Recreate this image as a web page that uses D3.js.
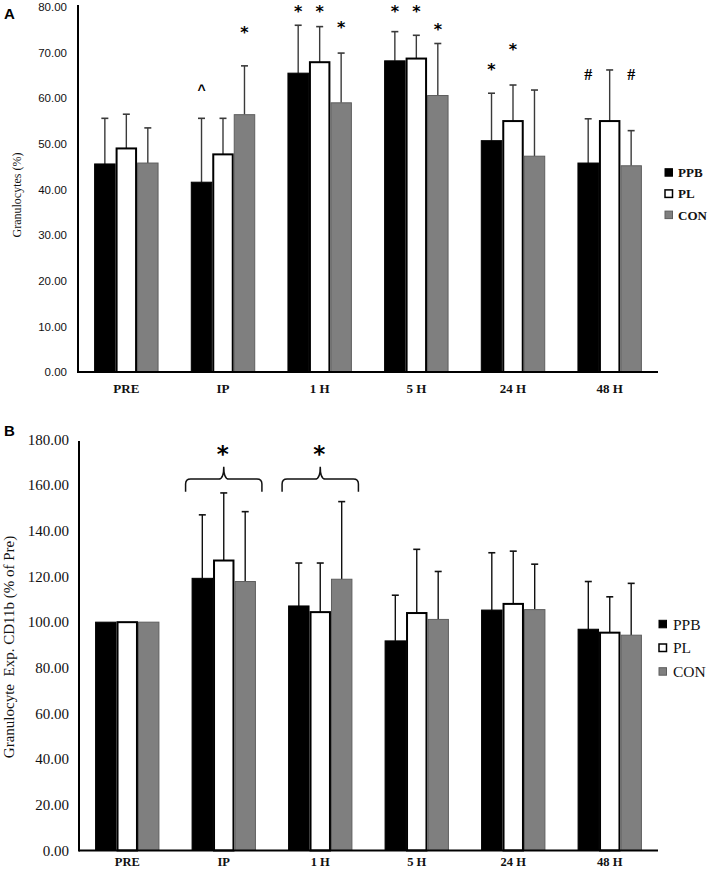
<!DOCTYPE html>
<html><head><meta charset="utf-8">
<script src="https://cdn.jsdelivr.net/npm/d3@7"></script>
<style>body{margin:0;background:#fff}svg{display:block}</style>
</head><body>
<svg id="c" width="709" height="873"></svg>
<script>
const categories = ["PRE","IP","1 H","5 H","24 H","48 H"];
const series = ["PPB","PL","CON"];
const yTicksA = [0,10,20,30,40,50,60,70,80];
const yTicksB = [0,20,40,60,80,100,120,140,160,180];

// Panel A: Granulocytes (%) means and upper error (mean+SD)
const A_PPB = [45.6, 41.6, 65.5, 68.2, 50.7, 45.8];
const A_PL  = [49.0, 47.7, 67.9, 68.7, 55.0, 55.0];
const A_CON = [45.8, 56.4, 59.0, 60.6, 47.3, 45.2];
const A_PPB_err = [55.6, 55.6, 76.0, 74.6, 61.1, 55.5];
const A_PL_err  = [56.5, 55.6, 75.7, 73.8, 62.9, 66.2];
const A_CON_err = [53.5, 67.1, 69.9, 72.0, 61.8, 52.9];
// annotations: [category, series, symbol, value-level]
const A_marks = [
  ["IP","PPB","^",62.5],["IP","CON","*",75.0],
  ["1 H","PPB","*",79.6],["1 H","PL","*",79.6],["1 H","CON","*",76.1],
  ["5 H","PPB","*",79.6],["5 H","PL","*",79.6],["5 H","CON","*",75.8],
  ["24 H","PPB","*",66.9],["24 H","PL","*",71.3],
  ["48 H","PPB","#",65.3],["48 H","CON","#",65.3]
];

// Panel B: Granulocyte Exp. CD11b (% of Pre)
const B_PPB = [100, 119.2, 107.1, 91.8, 105.3, 96.9];
const B_PL  = [100, 127.0, 104.4, 104.0, 108.0, 95.4];
const B_CON = [100, 117.8, 118.8, 101.2, 105.5, 94.3];
const B_PPB_err = [100, 147.0, 125.9, 111.8, 130.4, 117.8];
const B_PL_err  = [100, 156.6, 125.9, 131.9, 131.1, 111.1];
const B_CON_err = [100, 148.4, 152.8, 122.2, 125.4, 117.0];
const B_braces = ["IP","1 H"];

const fills = {PPB:"#000000", PL:"#ffffff", CON:"#7f7f7f"};
const strokes = {PPB:"#000000", PL:"#000000", CON:"#5e5e5e"};

const svg = d3.select("#c");
const serif = "'Liberation Serif','Times New Roman',serif";
const sans = "'Liberation Sans',Arial,sans-serif";

function panel(opt){
  const g = svg.append("g");
  const x = d3.scaleBand().domain(categories).range([opt.x0, opt.x1]).paddingInner(1/3).paddingOuter(1/6);
  const xs = d3.scaleBand().domain(series).range([0, x.bandwidth()]);
  const y = d3.scaleLinear().domain([0, opt.ymax]).range([opt.yb, opt.yt]);
  const data = {PPB:opt.vals[0], PL:opt.vals[1], CON:opt.vals[2]};
  const errs = {PPB:opt.errs[0], PL:opt.errs[1], CON:opt.errs[2]};

  // error bars (drawn first, behind bars)
  series.forEach(s=>{
    categories.forEach((c,i)=>{
      const cx = x(c)+xs(s)+xs.bandwidth()/2;
      if (errs[s][i] > data[s][i]) {
        g.append("line").attr("x1",cx).attr("x2",cx).attr("y1",y(data[s][i])).attr("y2",y(errs[s][i]))
          .attr("stroke",opt.errColor).attr("stroke-width",1.4);
        g.append("line").attr("x1",cx-3.5).attr("x2",cx+3.5).attr("y1",y(errs[s][i])).attr("y2",y(errs[s][i]))
          .attr("stroke",opt.errColor).attr("stroke-width",1.6);
      }
    });
  });
  // bars
  series.forEach(s=>{
    const sw = s==="PL" ? 2 : 1;
    g.selectAll(null).data(categories).enter().append("rect")
      .attr("x",c=>x(c)+xs(s)+sw/2)
      .attr("width",xs.bandwidth()-sw)
      .attr("y",(c,i)=>y(data[s][i]))
      .attr("height",(c,i)=>y(0)-y(data[s][i]))
      .attr("fill",fills[s]).attr("stroke",strokes[s]).attr("stroke-width",sw);
  });
  // axes
  const ya = g.append("g").attr("transform",`translate(${opt.x0},0)`)
    .call(d3.axisLeft(y).tickValues(opt.ticks).tickFormat(d3.format(".2f")).tickSize(0).tickPadding(opt.tickPad));
  ya.select(".domain").remove();
  ya.selectAll("text").attr("font-family",opt.tickFont).attr("font-size",opt.tickSize).attr("font-weight",opt.tickWeight).attr("fill","#111");
  g.append("line").attr("x1",opt.x0).attr("x2",opt.x0).attr("y1",opt.axisTop).attr("y2",opt.yb+1)
    .attr("stroke","#000").attr("stroke-width",2);
  g.append("line").attr("x1",opt.x0).attr("x2",opt.x1).attr("y1",opt.yb).attr("y2",opt.yb)
    .attr("stroke","#000").attr("stroke-width",2);
  const xa = g.append("g").attr("transform",`translate(0,${opt.yb})`)
    .call(d3.axisBottom(x).tickSize(0).tickPadding(opt.xPad));
  xa.select(".domain").remove();
  xa.selectAll("text").attr("font-family",serif).attr("font-size",opt.xSize).attr("font-weight","bold").attr("fill","#111");

  // y label
  g.append("text").attr("transform",`translate(${opt.ylabX},${opt.ylabY}) rotate(-90)`)
    .attr("text-anchor","middle").attr("font-family",serif).attr("font-size",opt.ylabSize).attr("fill","#111")
    .attr("xml:space","preserve").text(opt.ylab);
  // panel letter
  g.append("text").attr("x",4).attr("y",opt.letterY).attr("font-family",sans).attr("font-weight","bold")
    .attr("font-size",15).attr("fill","#000").text(opt.letter);
  // legend
  series.forEach((s,i)=>{
    const ly = opt.legY + i*opt.legGap;
    g.append("rect").attr("x",opt.legX).attr("y",ly-4).attr("width",7.5).attr("height",7.5)
      .attr("fill",fills[s]).attr("stroke",strokes[s]).attr("stroke-width",s==="PL"?1.5:1);
    g.append("text").attr("x",opt.legX+opt.legTx).attr("y",ly+opt.legSize*0.34)
      .attr("font-family",serif).attr("font-size",opt.legSize).attr("font-weight",opt.legWeight)
      .attr("fill","#111").text(s);
  });
  return {g,x,xs,y};
}

const pA = panel({x0:78,x1:658,yb:372,yt:7,ymax:80,axisTop:5,ticks:yTicksA,
  vals:[A_PPB,A_PL,A_CON],errs:[A_PPB_err,A_PL_err,A_CON_err],errColor:"#3a3a3a",
  tickFont:sans,tickSize:11.5,tickWeight:"normal",tickPad:11,xPad:12,xSize:13,
  ylab:"Granulocytes (%)",ylabX:21,ylabY:195,ylabSize:12,letter:"A",letterY:19,
  legX:665,legY:172.7,legGap:21.2,legTx:13,legSize:13,legWeight:"bold"});

A_marks.forEach(m=>{
  const cx = pA.x(m[0])+pA.xs(m[1])+pA.xs.bandwidth()/2;
  const yy = pA.y(m[3]);
  let fs = 16, dy = 0.54, fam = "'DejaVu Sans',sans-serif";
  if (m[2]==="#") { fs = 16; dy = 0.36; fam = serif; }
  if (m[2]==="^") { fs = 14; dy = 0.6; fam = sans; }
  pA.g.append("text").attr("x",cx).attr("y",yy+fs*dy).attr("text-anchor","middle")
    .attr("font-family",fam).attr("font-weight","bold").attr("font-size",fs).attr("fill","#000").text(m[2]);
});

const pB = panel({x0:79,x1:658,yb:850.5,yt:439.5,ymax:180,axisTop:441,ticks:yTicksB,
  vals:[B_PPB,B_PL,B_CON],errs:[B_PPB_err,B_PL_err,B_CON_err],errColor:"#111",
  tickFont:serif,tickSize:15,tickWeight:"normal",tickPad:10,xPad:7,xSize:12.5,
  ylab:"Granulocyte  Exp. CD11b (% of Pre)",ylabX:14,ylabY:647,ylabSize:15,letter:"B",letterY:436,
  legX:659,legY:624.3,legGap:23.7,legTx:14,legSize:15.5,legWeight:"normal"});

// braces with asterisks (panel B)
const braceEnd = 157.1, braceMid = 162.7, bracePeak = 168.1, braceStar = 175.4;
B_braces.forEach(c=>{
  const xc = pB.x(c)+pB.x.bandwidth()/2;
  const half = pB.x.bandwidth()/2 + 6;
  const x0 = xc-half, x1 = xc+half;
  const ye = pB.y(braceEnd), ym = pB.y(braceMid), yp = pB.y(bracePeak);
  const r = 5;
  const p = d3.path();
  p.moveTo(x0, ye);
  p.lineTo(x0, ym+r);
  p.quadraticCurveTo(x0, ym, x0+r, ym);
  p.lineTo(xc-r, ym);
  p.quadraticCurveTo(xc, ym, xc, yp);
  p.quadraticCurveTo(xc, ym, xc+r, ym);
  p.lineTo(x1-r, ym);
  p.quadraticCurveTo(x1, ym, x1, ym+r);
  p.lineTo(x1, ye);
  pB.g.append("path").attr("d",p.toString()).attr("fill","none").attr("stroke","#111").attr("stroke-width",1.5);
  pB.g.append("text").attr("x",xc-1).attr("y",pB.y(braceStar)+23*0.54).attr("text-anchor","middle")
    .attr("font-family","'DejaVu Sans',sans-serif").attr("font-weight","bold").attr("font-size",23).attr("fill","#000").text("*");
});
</script>
</body></html>
